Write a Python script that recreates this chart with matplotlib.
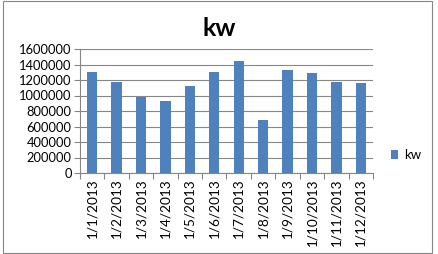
import matplotlib.pyplot as plt
import numpy as np
from matplotlib.patches import Rectangle

# Data
months = ['1/1/2013', '1/2/2013', '1/3/2013', '1/4/2013', '1/5/2013', '1/6/2013',
          '1/7/2013', '1/8/2013', '1/9/2013', '1/10/2013', '1/11/2013', '1/12/2013']
kw = [1300000, 1175000, 980000, 925000, 1120000, 1300000,
      1445000, 680000, 1330000, 1290000, 1175000, 1160000]

plt.rcParams['font.family'] = ['Lato', 'DejaVu Sans']

fig = plt.figure(figsize=(4.39, 2.54), dpi=100)
ax = fig.add_axes([80 / 439, 1 - 173 / 254, 293 / 439, 124 / 254])

x = np.arange(len(months))
ax.bar(x, kw, width=0.42, color='#4F81BD', label='kw', zorder=3)

ax.set_xlim(-0.5, len(months) - 0.5)
ax.set_ylim(0, 1600000)
ax.set_yticks(np.arange(0, 1600001, 200000))
ax.set_yticklabels([str(v) for v in range(0, 1600001, 200000)], fontsize=9.3)
ax.set_xticks(x)
ax.set_xticklabels(months, rotation=90, fontsize=9.8)
ax.set_xticks(np.arange(-0.5, len(months), 1), minor=True)
ax.tick_params(axis='x', which='major', length=0, pad=4)
ax.tick_params(axis='x', which='minor', length=4, color='#868686', width=0.8)
ax.tick_params(axis='y', length=4, color='#868686', width=0.8, pad=2)
ax.grid(axis='y', color='#868686', linewidth=0.8, zorder=0)

for s in ['top', 'right']:
    ax.spines[s].set_visible(False)
for s in ['left', 'bottom']:
    ax.spines[s].set_color('#868686')
    ax.spines[s].set_linewidth(0.8)

fig.text(219 / 439, 1 - 29 / 254, 'kw', fontsize=18, fontweight='bold',
         ha='center', va='center')

ax.legend(loc='center left', bbox_to_anchor=(1.06, 0.145), frameon=False,
          fontsize=9.5, handlelength=0.6, handleheight=0.6, handletextpad=0.4,
          borderpad=0, borderaxespad=0)

fig.patches.append(Rectangle((3 / 439, 1 / 254), 429 / 439, 252 / 254,
                             transform=fig.transFigure, fill=False,
                             edgecolor='#868686', linewidth=0.8))

fig.savefig('out.png', dpi=100)
